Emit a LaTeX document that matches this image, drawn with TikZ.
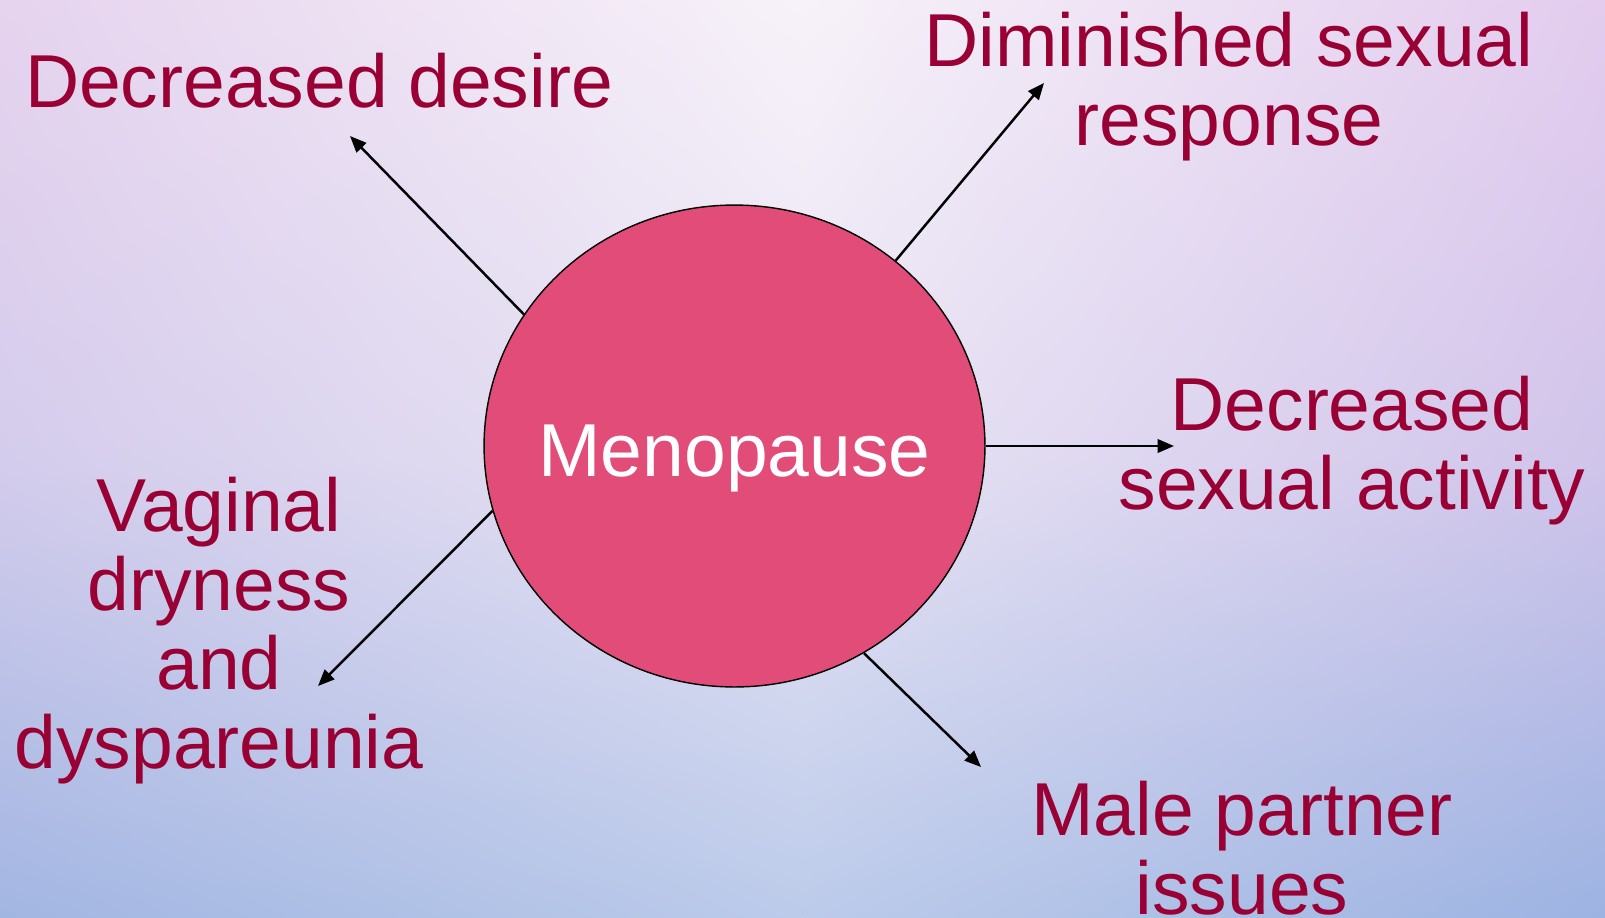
\documentclass[tikz,border=0pt]{standalone}
\usepackage{fontspec}
\setmainfont{Liberation Sans}
\usepackage{xcolor}
\usepackage{tikz}
\usetikzlibrary{shapes.geometric, arrows.meta, positioning, shadings}

\definecolor{labelred}{HTML}{990033}
\definecolor{menopink}{HTML}{E24C79}
\definecolor{bgTL}{HTML}{E6D3EE}
\definecolor{bgTC}{HTML}{F7F2F9}
\definecolor{bgTR}{HTML}{E3CCEE}
\definecolor{bgML}{HTML}{D4CCEC}
\definecolor{bgMC}{HTML}{E8E4F4}
\definecolor{bgMR}{HTML}{D0C4EA}
\definecolor{bgBL}{HTML}{A2B6E2}
\definecolor{bgBC}{HTML}{BCCBEA}
\definecolor{bgBR}{HTML}{9DB3E2}

\begin{document}
\begin{tikzpicture}[x=0.02cm, y=-0.02cm,
    symptom/.style={text=labelred, font=\fontsize{42.7}{44.8}\selectfont,
                    align=center, inner sep=0pt, anchor=base},
    centre/.style={ellipse, draw=black, line width=0.8pt, fill=menopink,
                   minimum width=10.02cm, minimum height=9.64cm, inner sep=0pt},
    centretext/.style={text=white, font=\fontsize{42.7}{44.8}\selectfont,
                       inner sep=0pt, anchor=base},
    effect/.style={-{Triangle[length=3.3mm, width=2.7mm]}, line width=1.4pt, black},
]

\useasboundingbox (0,0) rectangle (1605,917);

% Background
\shade[upper left=bgTL, upper right=bgTC, lower left=bgML, lower right=bgMC] (0,0) rectangle (802.5,458.5);
\shade[upper left=bgTC, upper right=bgTR, lower left=bgMC, lower right=bgMR] (802.5,0) rectangle (1605,458.5);
\shade[upper left=bgML, upper right=bgMC, lower left=bgBL, lower right=bgBC] (0,458.5) rectangle (802.5,917);
\shade[upper left=bgMC, upper right=bgMR, lower left=bgBC, lower right=bgBR] (802.5,458.5) rectangle (1605,917);

% Centre
\node[centre] (meno) at (734.5,446) {};
\node[centretext] (menotext) at (734.5,476) {Menopause};

% Effects (placed at baseline of last line)
\node[symptom] (desire) at (319,107.5) {Decreased desire};
\node[symptom] (response) at (1229,145) {Diminished sexual\\response};
\node[symptom] (activity) at (1352,509) {Decreased\\sexual activity};
\node[symptom] (vaginal) at (219,768) {Vaginal\\dryness\\and\\dyspareunia};
\node[symptom] (partner) at (1242,914) {Male partner\\issues};

% Arrow tips
\coordinate (to-desire) at (350,136);
\coordinate (to-response) at (1044,83);
\coordinate (to-activity) at (1174,446);
\coordinate (to-partner) at (981,767);
\coordinate (to-vaginal) at (318,686);

% Arrows
\foreach \a/\t in {148.7/to-desire, 49.5/to-response, 0/to-activity,
                   -58.5/to-partner, 195.8/to-vaginal} {
    \draw[effect] (meno.\a) -- (\t);
}

\end{tikzpicture}
\end{document}
